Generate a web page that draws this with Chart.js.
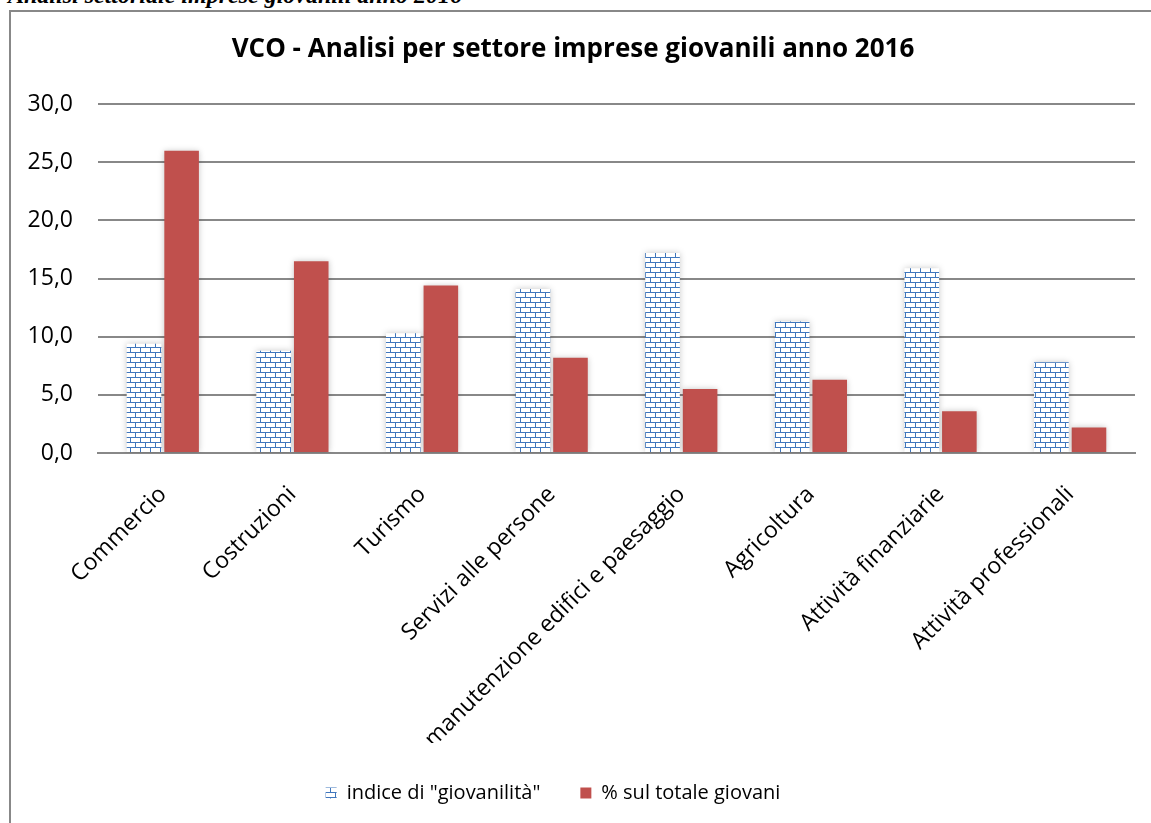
<!DOCTYPE html>
<html lang="it">
<head>
  <meta charset="UTF-8">
  <title>VCO - Analisi per settore imprese giovanili anno 2016</title>
  <script src="https://cdn.jsdelivr.net/npm/chart.js"></script>
  <style>
    html, body { margin: 0; padding: 0; background: #fff; }
    body { width: 1151px; height: 823px; position: relative; overflow: hidden; }
    #heading {
      position: absolute; left: 8px; top: -18px;
      font: italic bold 24px "Liberation Serif", "DejaVu Serif", serif;
      color: #000; white-space: nowrap;
    }
    #frame {
      position: absolute; left: 9px; top: 10px; width: 1160px; height: 830px;
      border-left: 2px solid #888; border-top: 2px solid #888;
    }
    #wrap { position: absolute; left: 11px; top: 12px; width: 1140px; height: 811px; }
  </style>
</head>
<body>
  <div id="heading">Analisi settoriale imprese giovanili anno 2016</div>
  <div id="frame"></div>
  <div id="wrap"><canvas id="chart"></canvas></div>

  <script>
    // dati
    const settori = ['Commercio', 'Costruzioni', 'Turismo', 'Servizi alle persone',
      'manutenzione edifici e paesaggio', 'Agricoltura', 'Attività finanziarie', 'Attività professionali'];
    const indiceGiovanilita = [9.4, 8.8, 10.3, 14.1, 17.2, 11.3, 15.9, 7.8];
    const percTotaleGiovani = [26.0, 16.5, 14.4, 8.2, 5.5, 6.3, 3.6, 2.2];
    const yTicks = [0, 5, 10, 15, 20, 25, 30];

    // motivo "mattoni" per la prima serie
    function brickPattern() {
      const c = document.createElement('canvas');
      c.width = 20; c.height = 10;
      const g = c.getContext('2d');
      g.fillStyle = '#fff';
      g.fillRect(0, 0, 20, 10);
      g.fillStyle = '#3f76bd';
      g.fillRect(0, 0, 20, 1);
      g.fillRect(0, 5, 20, 1);
      g.fillRect(4, 0, 1, 5);
      g.fillRect(14, 0, 1, 5);
      g.fillRect(9, 5, 1, 5);
      g.fillRect(19, 5, 1, 5);
      return g.createPattern(c, 'repeat');
    }

    // leggera ombra attorno alle barre
    const glow = {
      id: 'glow',
      beforeDatasetsDraw(chart) {
        const ctx = chart.ctx;
        ctx.save();
        ctx.shadowColor = 'rgba(0,0,0,0.22)';
        ctx.shadowBlur = 6;
      },
      afterDatasetsDraw(chart) {
        chart.ctx.restore();
      }
    };

    // la legenda originale è un po' spostata a sinistra
    const legendShift = {
      id: 'legendShift',
      afterLayout(chart) {
        chart.legend.left -= 40;
      }
    };

    const font = '"Open Sans", "Noto Sans", sans-serif';

    new Chart(document.getElementById('chart'), {
      type: 'bar',
      data: {
        labels: settori,
        datasets: [{
          label: 'indice di "giovanilità"',
          data: indiceGiovanilita,
          backgroundColor: brickPattern(),
          borderWidth: 0,
          barPercentage: 0.92,
          categoryPercentage: 0.58
        }, {
          label: '% sul totale giovani',
          data: percTotaleGiovani,
          backgroundColor: '#c0504d',
          borderWidth: 0,
          barPercentage: 0.92,
          categoryPercentage: 0.58
        }]
      },
      options: {
        responsive: true,
        maintainAspectRatio: false,
        animation: false,
        layout: { padding: { left: 0, right: 16, top: 0, bottom: 10 } },
        plugins: {
          title: {
            display: true,
            text: 'VCO - Analisi per settore imprese giovanili anno 2016',
            color: '#000',
            font: { family: font, size: 26, weight: 'bold' },
            padding: { top: 22, bottom: 39 }
          },
          legend: {
            position: 'bottom',
            labels: {
              color: '#000',
              font: { family: font, size: 20 },
              boxWidth: 11, boxHeight: 11,
              padding: 40
            }
          },
          tooltip: { enabled: false }
        },
        scales: {
          x: {
            grid: { display: false },
            border: { color: '#888', width: 2 },
            afterFit(axis) { axis.height = 290; },
            ticks: {
              color: '#000',
              font: { family: font, size: 23 },
              minRotation: 45, maxRotation: 45,
              padding: 20
            }
          },
          y: {
            min: 0, max: 30,
            afterBuildTicks(axis) { axis.ticks = yTicks.map(v => ({ value: v })); },
            afterFit(axis) { axis.width = 87; },
            grid: { color: '#888', lineWidth: 2, drawTicks: false },
            border: { display: false },
            ticks: {
              color: '#000',
              font: { family: font, size: 23 },
              padding: 25,
              callback: v => v.toFixed(1).replace('.', ',')
            }
          }
        }
      },
      plugins: [glow, legendShift]
    });
  </script>
</body>
</html>
